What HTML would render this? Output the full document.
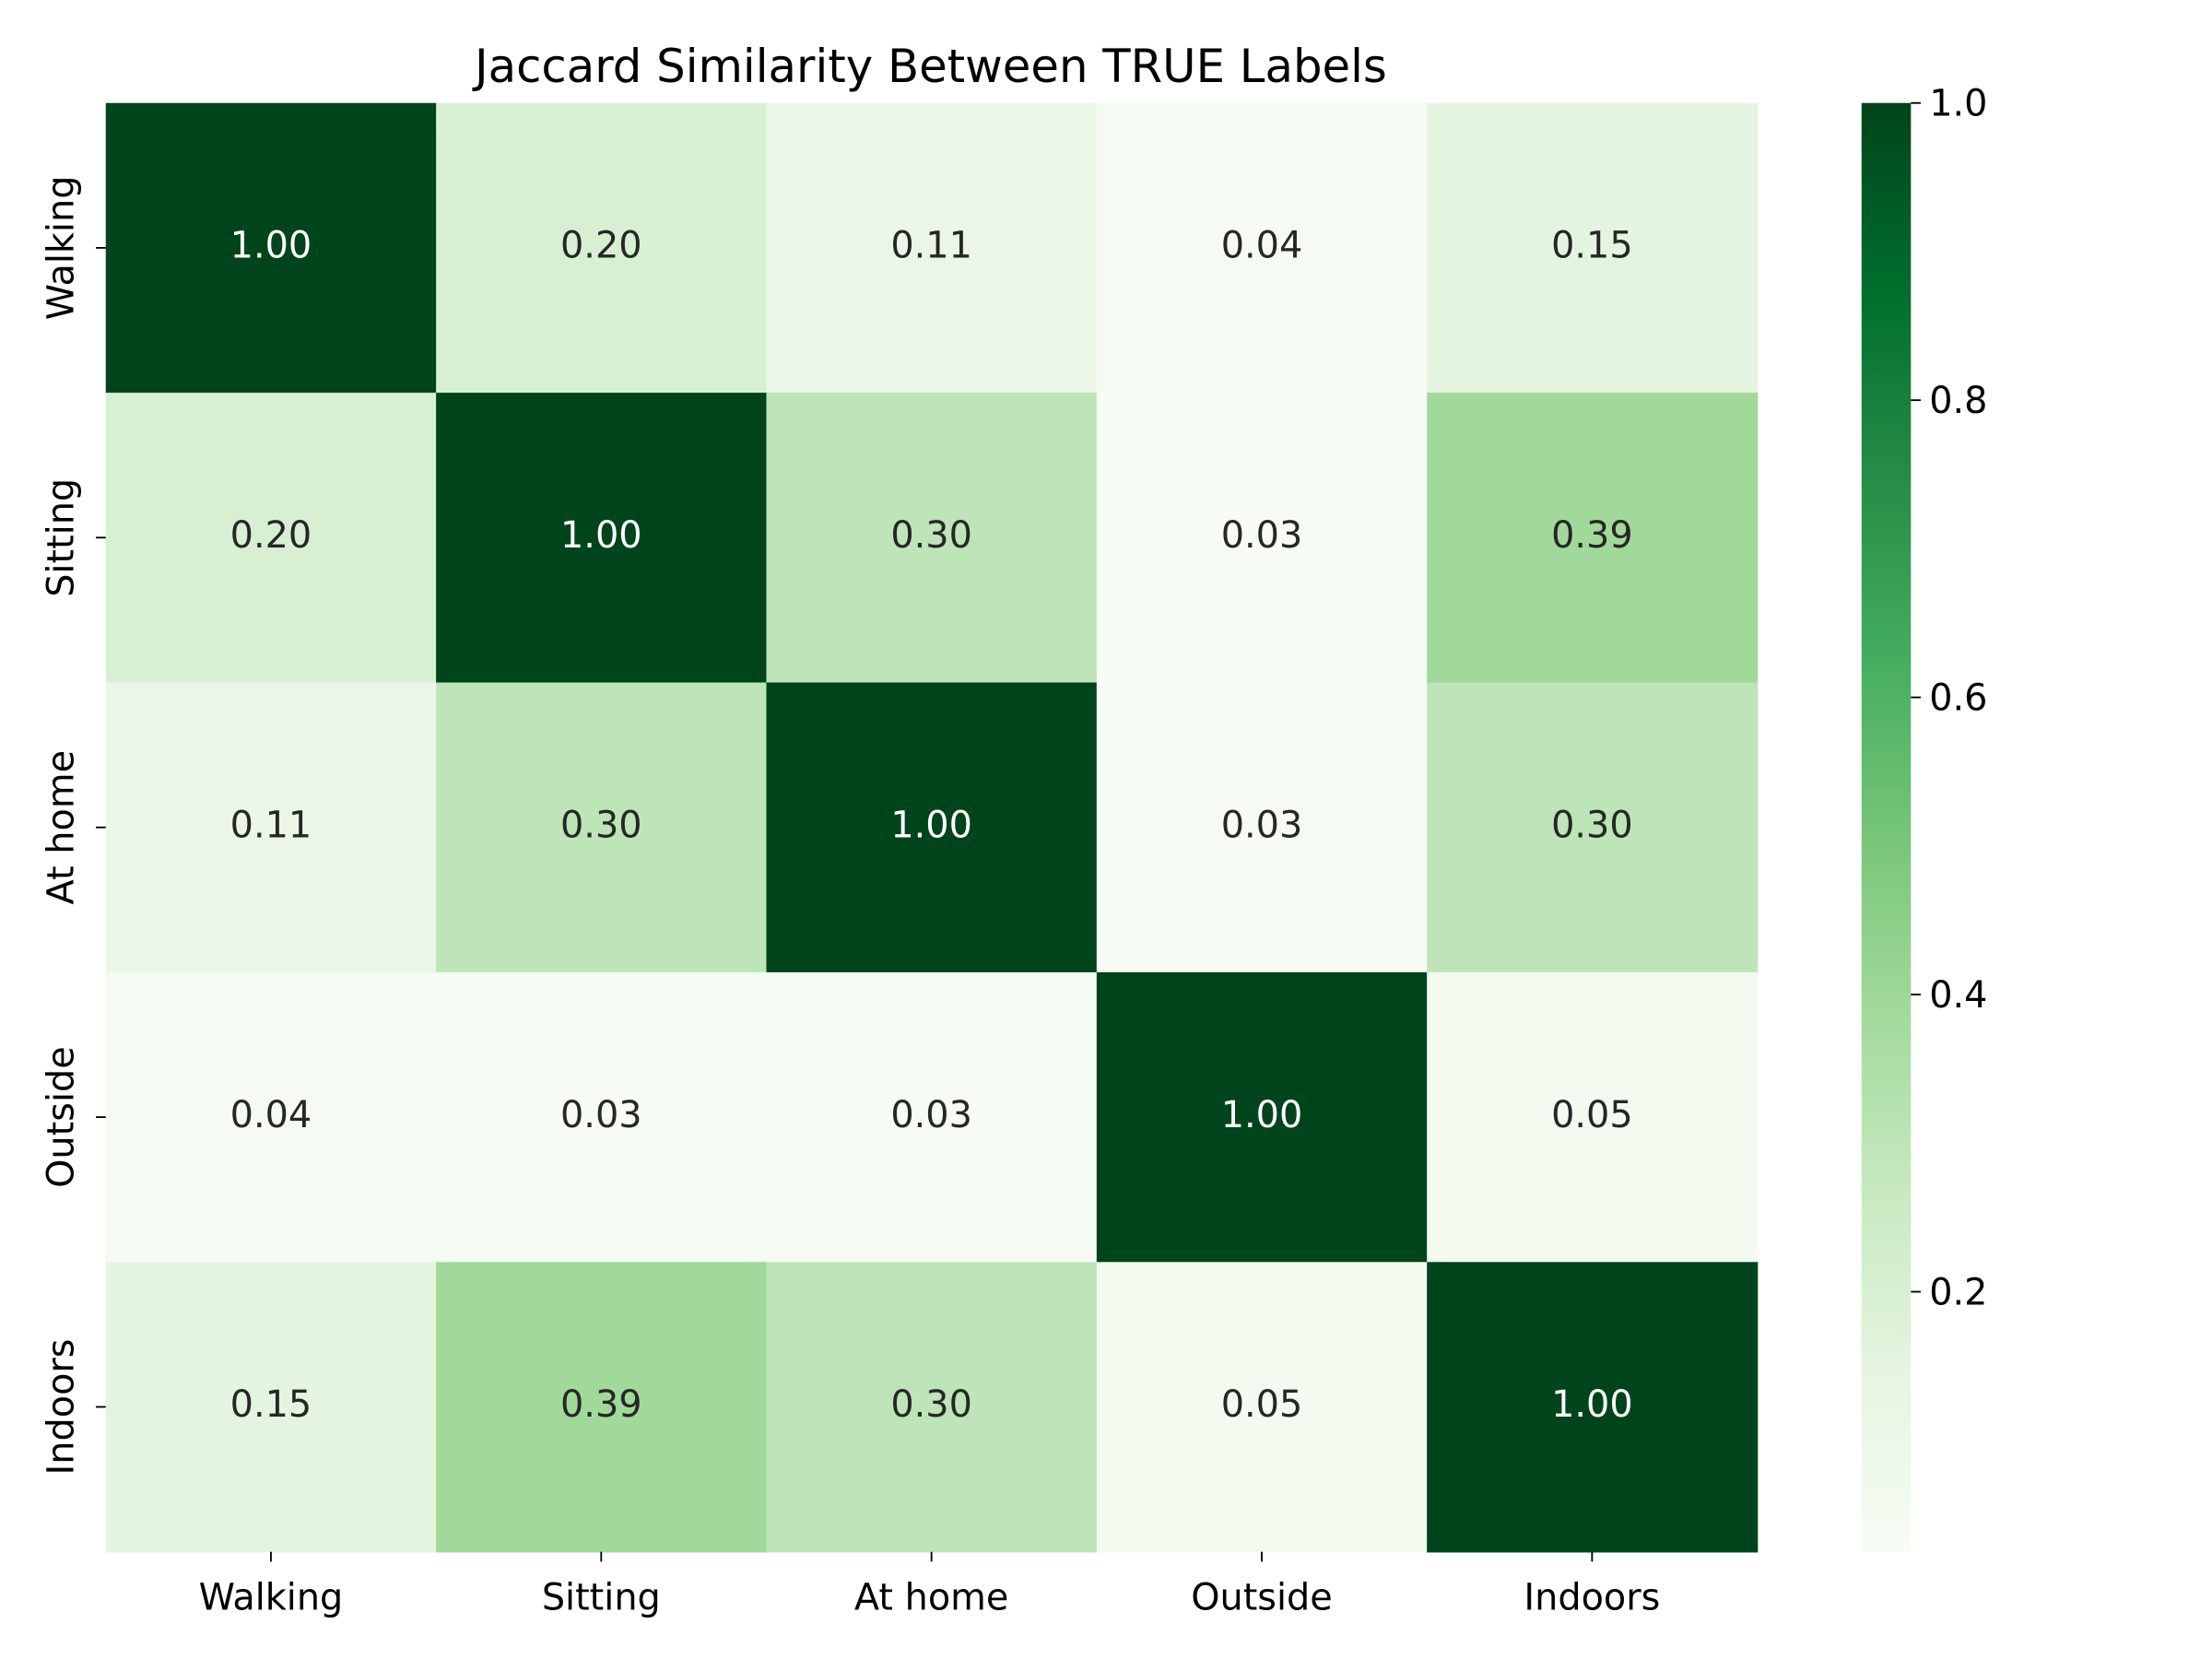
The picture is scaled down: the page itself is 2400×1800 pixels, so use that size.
<!DOCTYPE html>
<html><head><meta charset="utf-8"><style>
html,body{margin:0;padding:0;background:#fff;}
svg{display:block;font-family:"DejaVu Sans","Liberation Sans",sans-serif;}
</style></head><body>
<svg id="chart" width="2400" height="1800" viewBox="0 0 1568.5 1176" preserveAspectRatio="none" xmlns="http://www.w3.org/2000/svg">
<defs>
<linearGradient id="cbgrad" x1="0" y1="1" x2="0" y2="0"></linearGradient>
</defs>
<text x="660" y="58" font-size="32.5" text-anchor="middle" fill="#000">Jaccard Similarity Between TRUE Labels</text>
<g id="cells"></g>
<g id="axes"></g>
<g id="cbar"></g>
</svg>
<script>
const labels = ["Walking","Sitting","At home","Outside","Indoors"];
const row0 = [1.00,0.20,0.11,0.04,0.15];
const row1 = [0.20,1.00,0.30,0.03,0.39];
const row2 = [0.11,0.30,1.00,0.03,0.30];
const row3 = [0.04,0.03,0.03,1.00,0.05];
const row4 = [0.15,0.39,0.30,0.05,1.00];
const matrix = [row0,row1,row2,row3,row4];
const cbTicks = [0.2,0.4,0.6,0.8,1.0];
const vmin = 0.025, vmax = 1.0;

const NS = "http://www.w3.org/2000/svg";
const L = 75, R = 1246, T = 73, B = 1100;
const cw = (R-L)/labels.length, ch = (B-T)/labels.length;
const greens = ["#f7fcf5","#e5f5e0","#c7e9c0","#a1d99b","#74c476","#41ab5d","#238b45","#006d2c","#00441b"];
function hex(c){return [1,3,5].map(i=>parseInt(c.substr(i,2),16));}
function color(v){
  let t = Math.max(0,Math.min(1,(v-vmin)/(vmax-vmin)))*(greens.length-1);
  const i = Math.min(greens.length-2, Math.floor(t)); const f = t-i;
  const a = hex(greens[i]), b = hex(greens[i+1]);
  return "rgb("+a.map((x,k)=>Math.round(x+(b[k]-x)*f)).join(",")+")";
}
const xPos = i => L + cw*i;
const yPos = j => T + ch*j;
const cbY = v => B - (v-vmin)/(vmax-vmin)*(B-T);
function mk(tag, attrs, parent){const e=document.createElementNS(NS,tag);for(const k in attrs)e.setAttribute(k,attrs[k]);parent.appendChild(e);return e;}
const cells = document.getElementById("cells");
matrix.forEach((row,j)=>row.forEach((v,i)=>{
  const r = mk("rect",{x:xPos(i),y:yPos(j),width:cw+0.5,height:ch+0.5,fill:color(v)},cells);
  
  
  const t = mk("text",{x:xPos(i)+cw/2,y:yPos(j)+ch/2+7,"font-size":"26","text-anchor":"middle",fill:((v-vmin)/(vmax-vmin)>0.6)?"#ffffff":"#262626"},cells);
  t.textContent = v.toFixed(2);
  
  
}));
const axes = document.getElementById("axes");
labels.forEach((lab,i)=>{
  const cx = xPos(i)+cw/2;
  mk("line",{x1:cx,y1:B,x2:cx,y2:B+7,stroke:"#000","stroke-width":1.2},axes);
  const t = mk("text",{x:cx,y:B+41,"font-size":"26","text-anchor":"middle",fill:"#000"},axes);
  t.textContent = lab;
  
  
  const cy = yPos(i)+ch/2;
  mk("line",{x1:L-7,y1:cy,x2:L,y2:cy,stroke:"#000","stroke-width":1.2},axes);
  const ty = mk("text",{x:0,y:0,"font-size":"26","text-anchor":"middle",fill:"#000",transform:"translate(52,"+cy+") rotate(-90)"},axes);
  ty.textContent = lab;
  
  
});
const grad = document.getElementById("cbgrad");
greens.forEach((c,k)=>mk("stop",{offset:(k/(greens.length-1)),"stop-color":c},grad));
const cb = document.getElementById("cbar");
const cbr = mk("rect",{x:1320,y:T,width:35,height:B-T,fill:"url(#cbgrad)"},cb);


cbTicks.forEach(v=>{
  const y = cbY(v);
  mk("line",{x1:1355,y1:y,x2:1362,y2:y,stroke:"#000","stroke-width":1.2},cb);
  const t = mk("text",{x:1368,y:y+9,"font-size":"26",fill:"#000"},cb);
  t.textContent = v.toFixed(1);
  
  
});
</script>
</body></html>
